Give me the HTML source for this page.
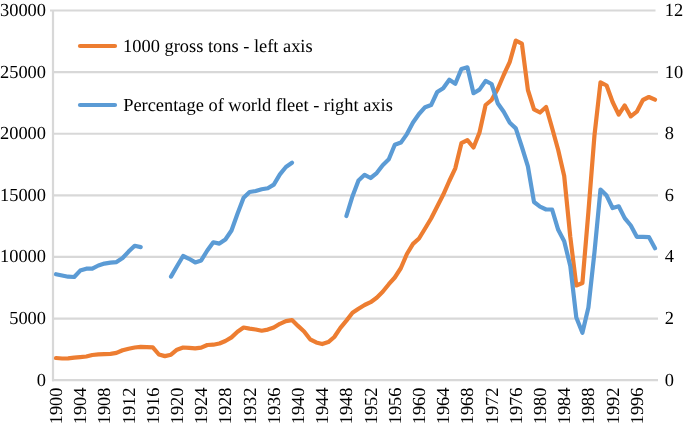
<!DOCTYPE html>
<html><head><meta charset="utf-8"><style>
html,body{margin:0;padding:0;background:#fff;}
.wrap{position:relative;width:685px;height:424px;}
body{width:685px;height:424px;overflow:hidden;}
svg{display:block;position:absolute;left:0;top:0;}
.txt{will-change:transform;}
.t{font-family:"Liberation Serif",serif;font-size:18.4px;fill:#000;text-rendering:geometricPrecision;}
</style></head><body><div class="wrap">
<svg width="685" height="424" viewBox="0 0 685 424">
<line x1="50" y1="10.5" x2="655.5" y2="10.5" stroke="#d8d8d8" stroke-width="2.2"/>
<line x1="53" y1="72.12" x2="658.0" y2="72.12" stroke="#d8d8d8" stroke-width="2.2"/>
<line x1="53" y1="133.73" x2="658.0" y2="133.73" stroke="#d8d8d8" stroke-width="2.2"/>
<line x1="53" y1="195.35" x2="658.0" y2="195.35" stroke="#d8d8d8" stroke-width="2.2"/>
<line x1="53" y1="256.97" x2="658.0" y2="256.97" stroke="#d8d8d8" stroke-width="2.2"/>
<line x1="53" y1="318.58" x2="658.0" y2="318.58" stroke="#d8d8d8" stroke-width="2.2"/>
<line x1="53" y1="10.5" x2="53" y2="381.2" stroke="#d8d8d8" stroke-width="2.2"/>
<line x1="52" y1="380.2" x2="658.0" y2="380.2" stroke="#d8d8d8" stroke-width="2.2"/>
<polyline points="56.0,358.0 62.1,358.5 68.1,358.3 74.2,357.6 80.2,357.1 86.3,356.5 92.3,355.0 98.4,354.4 104.4,354.1 110.5,353.8 116.5,352.9 122.6,350.3 128.6,348.7 134.7,347.5 140.7,346.9 146.8,347.1 152.8,347.4 158.9,354.5 164.9,356.1 171.0,354.7 177.0,349.7 183.1,347.5 189.1,347.9 195.2,348.3 201.2,347.7 207.3,345.0 213.3,344.7 219.4,343.5 225.4,341.0 231.5,337.4 237.5,331.8 243.6,327.5 249.6,328.6 255.7,329.5 261.7,330.7 267.8,329.6 273.8,327.5 279.9,323.8 285.9,321.1 292.0,320.1 298.0,325.9 304.1,331.5 310.1,339.3 316.2,342.4 322.2,344.1 328.3,342.1 334.3,337.0 340.4,327.8 346.4,320.6 352.5,312.8 358.5,308.7 364.6,305.0 370.6,302.2 376.7,297.7 382.7,291.8 388.8,284.2 394.8,277.5 400.9,268.0 406.9,254.0 413.0,243.9 419.0,238.5 425.1,228.5 431.1,218.5 437.2,206.5 443.2,194.8 449.3,181.0 455.3,168.3 461.4,143.2 467.4,140.2 473.5,147.5 479.5,132.5 485.6,105.0 491.6,100.0 497.7,89.0 503.7,75.0 509.8,61.8 515.8,40.6 521.9,43.7 527.9,90.0 534.0,109.3 540.0,112.5 546.1,107.0 552.1,128.0 558.2,150.0 564.2,176.0 570.3,237.0 576.3,285.5 582.4,283.0 588.4,212.0 594.5,135.0 600.5,82.3 606.6,85.5 612.6,102.0 618.7,114.6 624.7,105.4 630.8,116.4 636.8,111.7 642.9,100.0 648.9,97.0 655.0,99.7" fill="none" stroke="#ed7d31" stroke-width="4.2" stroke-linejoin="round" stroke-linecap="round"/>
<polyline points="56.0,274.2 62.1,275.5 68.1,276.7 74.2,277.0 80.2,270.6 86.3,268.7 92.3,268.7 98.4,265.5 104.4,263.6 110.5,262.6 116.5,262.1 122.6,258.0 128.6,251.6 134.7,245.8 140.7,247.1" fill="none" stroke="#5b9bd5" stroke-width="4.2" stroke-linejoin="round" stroke-linecap="round"/>
<polyline points="171.0,276.6 177.0,266.2 183.1,256.0 189.1,258.8 195.2,262.4 201.2,260.4 207.3,250.5 213.3,242.3 219.4,243.6 225.4,239.5 231.5,230.5 237.5,213.7 243.6,197.8 249.6,192.0 255.7,191.0 261.7,189.3 267.8,188.2 273.8,184.6 279.9,174.4 285.9,167.0 292.0,162.7" fill="none" stroke="#5b9bd5" stroke-width="4.2" stroke-linejoin="round" stroke-linecap="round"/>
<polyline points="346.4,216.0 352.5,196.2 358.5,180.5 364.6,174.8 370.6,178.0 376.7,173.1 382.7,165.2 388.8,159.3 394.8,144.8 400.9,142.6 406.9,134.1 413.0,122.5 419.0,114.0 425.1,107.2 431.1,105.1 437.2,92.0 443.2,88.2 449.3,79.7 455.3,83.8 461.4,69.0 467.4,67.3 473.5,93.2 479.5,89.6 485.6,80.9 491.6,84.0 497.7,103.2 503.7,111.8 509.8,122.8 515.8,128.4 521.9,147.0 527.9,166.3 534.0,202.0 540.0,206.7 546.1,209.5 552.1,209.5 558.2,229.8 564.2,241.2 570.3,266.0 576.3,317.5 582.4,332.8 588.4,307.5 594.5,252.0 600.5,189.5 606.6,195.6 612.6,208.0 618.7,206.3 624.7,218.1 630.8,225.5 636.8,236.8 642.9,236.8 648.9,237.1 655.0,248.2" fill="none" stroke="#5b9bd5" stroke-width="4.2" stroke-linejoin="round" stroke-linecap="round"/>
<line x1="80" y1="46" x2="115" y2="46" stroke="#ed7d31" stroke-width="4.2" stroke-linecap="round"/>
<line x1="80" y1="105" x2="115" y2="105" stroke="#5b9bd5" stroke-width="4.2" stroke-linecap="round"/>
</svg>
<svg class="txt" width="685" height="424" viewBox="0 0 685 424">
<text x="123.1" y="51.5" class="t">1000 gross tons - left axis</text>
<text x="123.2" y="110.5" class="t">Percentage of world fleet - right axis</text>
<text x="46" y="15.9" class="t" text-anchor="end">30000</text>
<text x="46" y="77.5" class="t" text-anchor="end">25000</text>
<text x="46" y="139.1" class="t" text-anchor="end">20000</text>
<text x="46" y="200.8" class="t" text-anchor="end">15000</text>
<text x="46" y="262.4" class="t" text-anchor="end">10000</text>
<text x="46" y="324.0" class="t" text-anchor="end">5000</text>
<text x="46" y="385.6" class="t" text-anchor="end">0</text>
<text x="664.7" y="15.9" class="t">12</text>
<text x="664.7" y="77.5" class="t">10</text>
<text x="664.7" y="139.1" class="t">8</text>
<text x="664.7" y="200.8" class="t">6</text>
<text x="664.7" y="262.4" class="t">4</text>
<text x="664.7" y="324.0" class="t">2</text>
<text x="664.7" y="385.6" class="t">0</text>
<text transform="translate(62.0,387.5) rotate(-90)" class="t" text-anchor="end">1900</text>
<text transform="translate(86.2,387.5) rotate(-90)" class="t" text-anchor="end">1904</text>
<text transform="translate(110.4,387.5) rotate(-90)" class="t" text-anchor="end">1908</text>
<text transform="translate(134.6,387.5) rotate(-90)" class="t" text-anchor="end">1912</text>
<text transform="translate(158.8,387.5) rotate(-90)" class="t" text-anchor="end">1916</text>
<text transform="translate(183.0,387.5) rotate(-90)" class="t" text-anchor="end">1920</text>
<text transform="translate(207.2,387.5) rotate(-90)" class="t" text-anchor="end">1924</text>
<text transform="translate(231.4,387.5) rotate(-90)" class="t" text-anchor="end">1928</text>
<text transform="translate(255.6,387.5) rotate(-90)" class="t" text-anchor="end">1932</text>
<text transform="translate(279.8,387.5) rotate(-90)" class="t" text-anchor="end">1936</text>
<text transform="translate(304.0,387.5) rotate(-90)" class="t" text-anchor="end">1940</text>
<text transform="translate(328.2,387.5) rotate(-90)" class="t" text-anchor="end">1944</text>
<text transform="translate(352.4,387.5) rotate(-90)" class="t" text-anchor="end">1948</text>
<text transform="translate(376.6,387.5) rotate(-90)" class="t" text-anchor="end">1952</text>
<text transform="translate(400.8,387.5) rotate(-90)" class="t" text-anchor="end">1956</text>
<text transform="translate(425.0,387.5) rotate(-90)" class="t" text-anchor="end">1960</text>
<text transform="translate(449.2,387.5) rotate(-90)" class="t" text-anchor="end">1964</text>
<text transform="translate(473.4,387.5) rotate(-90)" class="t" text-anchor="end">1968</text>
<text transform="translate(497.6,387.5) rotate(-90)" class="t" text-anchor="end">1972</text>
<text transform="translate(521.8,387.5) rotate(-90)" class="t" text-anchor="end">1976</text>
<text transform="translate(546.0,387.5) rotate(-90)" class="t" text-anchor="end">1980</text>
<text transform="translate(570.2,387.5) rotate(-90)" class="t" text-anchor="end">1984</text>
<text transform="translate(594.4,387.5) rotate(-90)" class="t" text-anchor="end">1988</text>
<text transform="translate(618.6,387.5) rotate(-90)" class="t" text-anchor="end">1992</text>
<text transform="translate(642.8,387.5) rotate(-90)" class="t" text-anchor="end">1996</text>
</svg>
</div></body></html>
